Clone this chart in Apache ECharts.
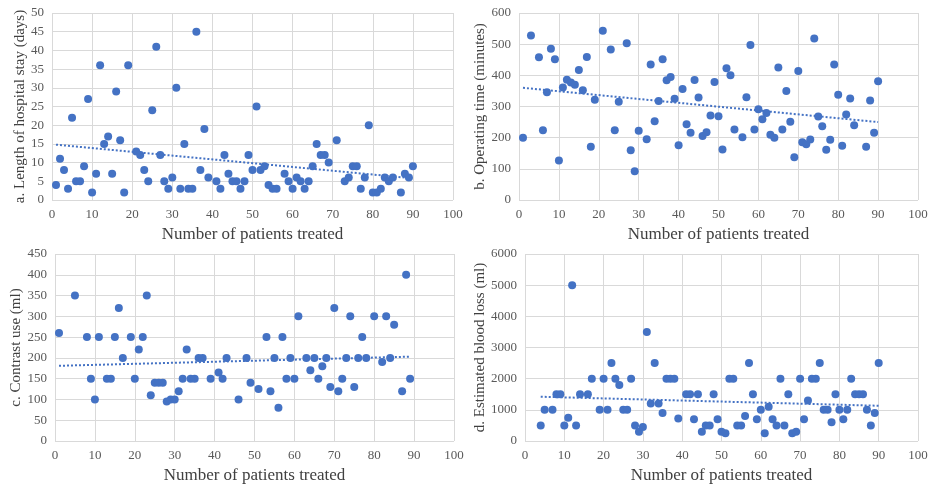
<!DOCTYPE html>
<html>
<head>
<meta charset="utf-8">
<script src="https://cdn.jsdelivr.net/npm/echarts@6/dist/echarts.min.js"></script>
<style>
html,body{margin:0;padding:0;background:#fff;}
#chart{width:934px;height:487px;}
</style>
</head>
<body>
<div id="chart"></div>
<script>
// Panel a: Length of hospital stay (days)
const stayX = [1,2,3,4,5,6,7,8,9,10,11,12,13,14,15,16,17,18,19,21,22,23,24,25,26,27,28,29,30,31,32,33,34,35,36,37,38,39,41,42,43,44,45,46,47,48,49,50,51,52,53,54,55,56,58,59,60,61,62,63,64,65,66,67,68,69,71,73,74,75,76,77,78,79,80,81,82,83,84,85,87,88,89,90];
const stayY = [4,11,8,3,22,5,5,9,27,2,7,36,15,17,7,29,16,2,36,13,12,8,5,24,41,12,5,3,6,30,3,15,3,3,45,8,19,6,5,3,12,7,5,5,3,5,12,8,25,8,9,4,3,3,7,5,3,6,5,3,5,9,15,12,12,10,16,5,6,9,9,3,6,20,2,2,3,6,5,6,2,7,6,9];
const stayTrend = [[1,14.8],[90,5.8]];

// Panel b: Operating time (minutes)
const opX = [1,3,5,6,7,8,9,10,11,12,13,14,15,16,17,18,19,21,23,24,25,27,28,29,30,32,33,34,35,36,37,38,39,40,41,42,43,44,45,46,47,48,49,50,51,52,53,54,56,57,58,59,60,61,62,63,64,65,66,67,68,69,70,71,72,73,74,75,76,77,78,79,80,81,82,83,84,87,88,89,90];
const opY = [200,528,458,224,346,485,452,127,361,386,377,370,417,352,459,171,322,543,483,224,315,503,160,92,222,195,435,253,318,452,384,395,325,176,356,243,216,385,329,205,217,271,379,269,162,423,400,226,201,330,497,226,291,259,279,209,200,425,226,350,251,137,414,185,179,194,518,268,237,161,193,435,338,174,274,326,240,171,319,216,381];
const opTrend = [[1,360],[90,250]];

// Panel c: Contrast use (ml)
const conX = [1,5,8,9,10,11,13,14,15,16,17,19,20,21,22,23,24,25,26,27,28,29,30,31,32,33,34,35,36,37,39,41,42,43,46,48,49,51,53,54,55,56,57,58,59,60,61,63,64,65,66,67,68,69,70,71,72,73,74,75,76,77,78,80,82,83,84,85,87,88,89];
const conY = [260,350,250,150,100,250,150,150,250,320,200,250,150,220,250,350,110,140,140,140,95,100,100,120,150,220,150,150,200,200,150,165,150,200,100,200,140,125,250,120,200,80,250,150,200,150,300,200,170,200,150,180,200,130,320,120,150,200,300,130,200,250,200,300,190,300,200,280,120,400,150];
const conTrend = [[1,181],[89,203]];

// Panel d: Estimated blood loss (ml)
const bloodX = [4,5,7,8,9,10,11,12,13,14,16,17,19,20,21,22,23,24,25,26,27,28,29,30,31,32,33,34,35,36,37,38,39,41,42,43,44,45,46,47,48,49,50,51,52,53,54,55,56,57,58,59,60,61,62,63,64,65,66,67,68,69,70,71,72,73,74,75,76,77,78,79,80,81,82,83,84,85,86,87,88,89,90];
const bloodY = [500,1000,1000,1500,1500,500,750,5000,500,1500,1500,2000,1000,2000,1000,2500,2000,1800,1000,1000,2000,500,300,450,3500,1200,2500,1200,900,2000,2000,2000,720,1500,1500,700,1500,300,500,500,1500,700,300,250,2000,2000,500,500,800,2500,1500,700,1000,250,1100,700,500,2000,500,1500,250,300,2000,700,1300,2000,2000,2500,1000,1000,600,1500,1000,700,1000,2000,1500,1500,1500,1000,500,900,2500];
const bloodTrend = [[4,1420],[90,1130]];

const xTicks = {min:0, max:100, interval:10};
const yNames = ['a. Length of hospital stay (days)','b. Operating time (minutes)','c. Contrast use (ml)','d. Estimated blood loss (ml)'];
const xName = 'Number of patients treated';

const BLUE = '#4472C4';
const GRIDC = '#d9d9d9';
const TICKC = '#595959';
const FONT = 'Liberation Serif';

function zip(xs, ys){ return xs.map((x,i)=>[x, ys[i]]); }

const grids = [
  {left:52, right:481, top:13, bottom:287},
  {left:519, right:16, top:13, bottom:287},
  {left:55, right:480, top:254, bottom:46},
  {left:525, right:16, top:254, bottom:46}
];
const yRanges = [
  {min:0,max:50,interval:5},
  {min:0,max:600,interval:100},
  {min:0,max:450,interval:50},
  {min:0,max:6000,interval:1000}
];
const yGaps = [24, 31, 30, 36];
const panels = [[stayX,stayY,stayTrend],[opX,opY,opTrend],[conX,conY,conTrend],[bloodX,bloodY,bloodTrend]];

const xAxes = [], yAxes = [], series = [];
panels.forEach((p, i) => {
  xAxes.push({
    type:'value', gridIndex:i, min:xTicks.min, max:xTicks.max, interval:xTicks.interval,
    name:xName, nameLocation:'middle', nameGap:26,
    nameTextStyle:{fontFamily:FONT, fontSize:17, color:'#404040'},
    axisLine:{show:false}, axisTick:{show:false},
    axisLabel:{fontFamily:FONT, fontSize:13, color:TICKC, margin:8, formatter:v=>String(v)},
    splitLine:{show:true, lineStyle:{color:GRIDC, width:1}}
  });
  yAxes.push({
    type:'value', gridIndex:i, min:yRanges[i].min, max:yRanges[i].max, interval:yRanges[i].interval,
    name:yNames[i], nameLocation:'middle', nameGap:yGaps[i],
    nameTextStyle:{fontFamily:FONT, fontSize:15, color:'#404040'},
    axisLine:{show:false}, axisTick:{show:false},
    axisLabel:{fontFamily:FONT, fontSize:13, color:TICKC, margin:8, formatter:v=>String(v)},
    splitLine:{show:true, lineStyle:{color:GRIDC, width:1}}
  });
  series.push({
    type:'scatter', xAxisIndex:i, yAxisIndex:i, data:zip(p[0],p[1]),
    symbol:'circle', symbolSize:8, itemStyle:{color:BLUE, opacity:1}, z:3
  });
  series.push({
    type:'line', xAxisIndex:i, yAxisIndex:i, data:p[2], symbol:'none',
    lineStyle:{color:BLUE, width:2, type:[2,2]}, z:2, silent:true
  });
});

const chart = echarts.init(document.getElementById('chart'), null, {renderer:'canvas'});
chart.setOption({
  animation:false,
  backgroundColor:'#ffffff',
  grid:grids,
  xAxis:xAxes,
  yAxis:yAxes,
  series:series
});
</script>
</body>
</html>
